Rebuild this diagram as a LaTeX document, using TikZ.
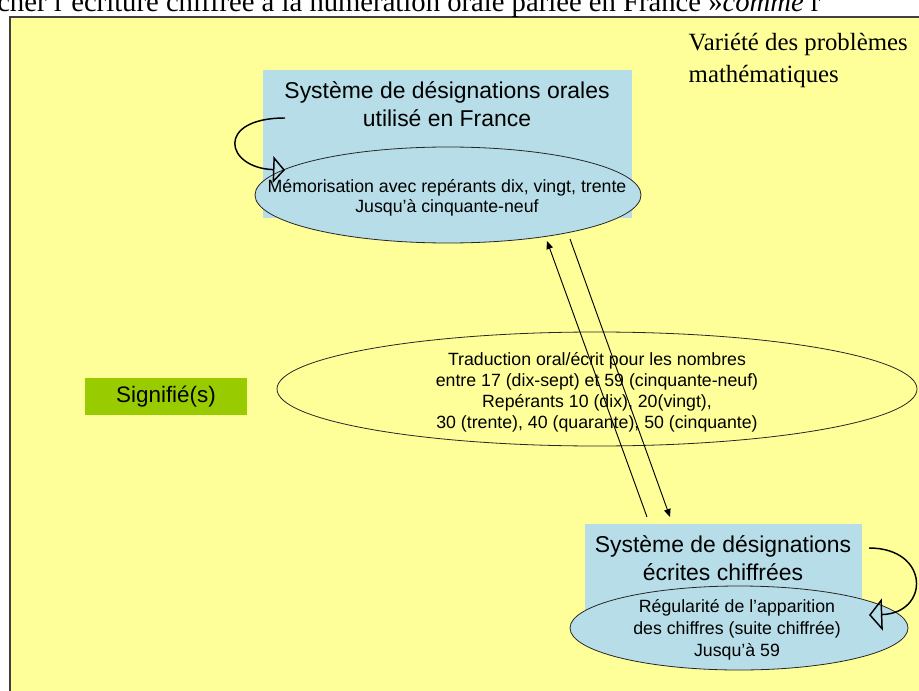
\documentclass[tikz,border=0pt]{standalone}
\usepackage{fontspec}
\setmainfont{Liberation Sans}
\newfontfamily\timesfont{Liberation Serif}
\usetikzlibrary{shapes.geometric, arrows.meta, positioning}
\definecolor{slide}{HTML}{FFFF99}
\definecolor{sysblue}{HTML}{B7DEE8}
\definecolor{signgreen}{HTML}{99CC00}
\definecolor{frameline}{HTML}{404040}

\begin{document}
\begin{tikzpicture}[x=0.75pt, y=-0.75pt,
    sysbox/.style={rectangle, fill=sysblue, inner sep=0pt},
    sysellipse/.style={ellipse, draw=black!85, fill=#1, inner sep=0pt, line width=0.6pt},
    titletext/.style={align=center, font=\fontsize{17.2}{21}\selectfont},
    bodytext/.style={align=center, font=\fontsize{13.3}{#1}\selectfont},
    looparr/.style={-{Triangle[open, length=9pt, width=20pt]}, line width=1.1pt},
    arr/.style={-{Triangle[length=6pt, width=5pt]}, line width=0.7pt}
]
\useasboundingbox (0,0) rectangle (919,691);
\clip (0,0) rectangle (919,691);

% slide background
\fill[slide] (10,17) rectangle (930,700);
\draw[frameline, line width=0.8pt] (10,700) -- (10,17) -- (930,17);
\node[anchor=base west, inner sep=0pt, font=\timesfont\fontsize{21.5}{24}\selectfont] (intro) at (-3,12)
    {cher l’écriture chiffrée à la numération orale parlée en France »\textit{comme} r};

% oral system
\node[sysbox, minimum width=276.75pt, minimum height=111pt] (oral) at (447.5,144) {};
\node[titletext] (oraltitle) at (447,104) {Système de désignations orales\\utilisé en France};
\node[sysellipse=sysblue, minimum width=289.5pt, minimum height=72pt] (oralmem) at (448,195) {};
\node[bodytext=15pt] (oralmemtext) at (447,198) {Mémorisation avec repérants dix, vingt, trente\\Jusqu’à cinquante-neuf};

% written system
\node[sysbox, minimum width=207.75pt, minimum height=64.5pt] (ecrit) at (723.5,567) {};
\node[titletext] (ecrittitle) at (723,558.5) {Système de désignations\\écrites chiffrées};
\node[sysellipse=sysblue, minimum width=253.5pt, minimum height=63pt] (ecritreg) at (739,628) {};
\node[bodytext=16.5pt] (ecritregtext) at (737,630) {Régularité de l’apparition\\des chiffres (suite chiffrée)\\Jusqu’à 59};

% translation
\node[sysellipse=none, minimum width=480pt, minimum height=85.5pt] (trad) at (597,389) {};
\node[bodytext=15.8pt] (tradtext) at (597,392) {Traduction oral/écrit pour les nombres\\entre 17 (dix-sept) et 59 (cinquante-neuf)\\Repérants 10 (dix), 20(vingt),\\30 (trente), 40 (quarante), 50 (cinquante)};

\node[rectangle, fill=signgreen, minimum width=121.5pt, minimum height=27.75pt,
      font=\fontsize{16.8}{18}\selectfont] (signifie) at (166,396.5) {Signifié(s)};

\node[anchor=west, align=left, font=\timesfont\fontsize{18.6}{24}\selectfont] (variete) at (684,61)
    {Variété des problèmes\\mathématiques};

% loops
\coordinate (oralloopa) at (285,118);
\coordinate (oralloopb) at (285,170);
\draw[looparr] (oralloopa) .. controls (215,118) and (225,168) .. (oralloopb);
\coordinate (ecritloopa) at (869,548);
\coordinate (ecritloopb) at (869,615);
\draw[looparr, -{Triangle[open, length=10pt, width=24pt]}] (ecritloopa) .. controls (930,548) and (930,613) .. (ecritloopb);

% links
\coordinate (upfrom) at (647,517);
\coordinate (upto) at (547,241);
\coordinate (downfrom) at (570,239);
\coordinate (downto) at (670,517);
\draw[arr] (upfrom) -- (upto);
\draw[arr] (downfrom) -- (downto);
\end{tikzpicture}
\end{document}
